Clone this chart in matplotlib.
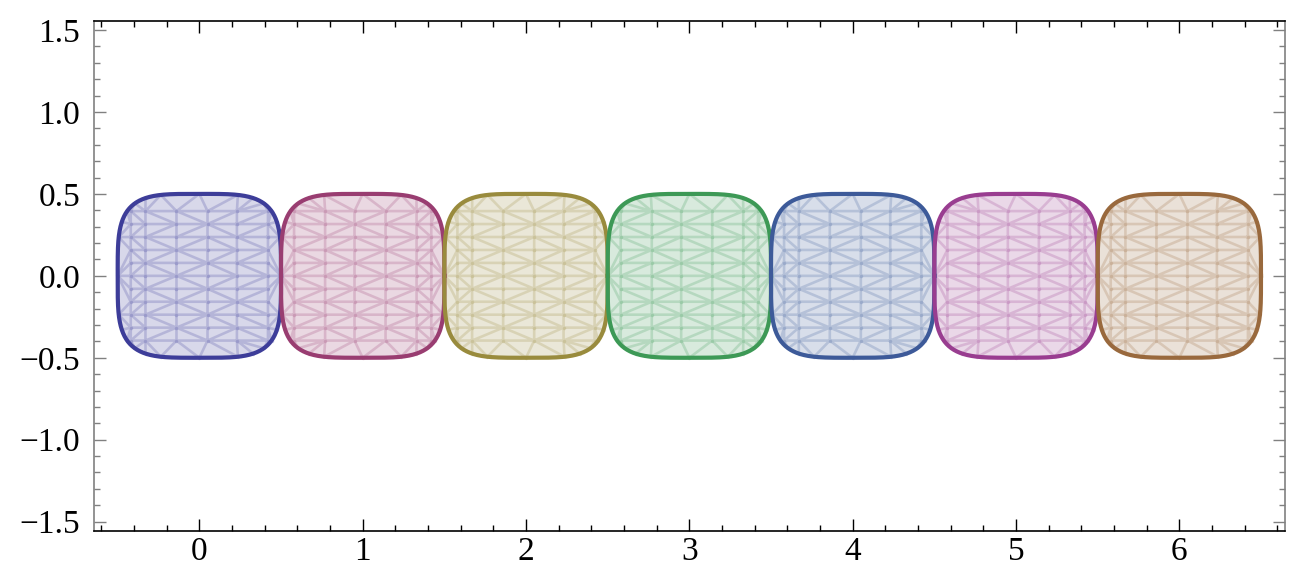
import numpy as np
import matplotlib.pyplot as plt
import matplotlib.tri as mtri
from matplotlib.ticker import MultipleLocator

# squircles |x|^4 + |y|^4 <= 0.5^4, one per center
centers = [0, 1, 2, 3, 4, 5, 6]
half_size = 0.5
power = 4
colors = ['#3d3d99', '#993d71', '#998b3d', '#3d9956', '#3d5a99', '#993d90', '#99693d']

plt.rcParams['font.family'] = ['Liberation Serif', 'DejaVu Serif']

fig = plt.figure(figsize=(13.04, 5.71), dpi=100)
ax = fig.add_axes([94/1304, 1-531/571, (1285-94)/1304, (531-21)/571])

t = np.linspace(0, 2*np.pi, 400)
bx = half_size*np.sign(np.cos(t))*np.abs(np.cos(t))**(2/power)
by = half_size*np.sign(np.sin(t))*np.abs(np.sin(t))**(2/power)

# interior points for the polygon triangulation
tb = np.linspace(0, 2*np.pi, 28, endpoint=False)
ex = half_size*np.sign(np.cos(tb))*np.abs(np.cos(tb))**(2/power)
ey = half_size*np.sign(np.sin(tb))*np.abs(np.sin(tb))**(2/power)
rows = np.arange(-5, 6)*0.079
cols = np.array([-0.42, -0.33, -0.14, 0.05, 0.23, 0.42])

for i, (c, col) in enumerate(zip(centers, colors)):
    gx = cols if i % 2 == 0 else -cols
    mx, my = np.meshgrid(gx, rows)
    px = np.concatenate([mx.ravel(), ex])
    py = np.concatenate([my.ravel(), ey])
    tri = mtri.Triangulation(px + c, py)
    ax.fill(bx + c, by, color=col, alpha=0.2, lw=0)
    ax.triplot(tri, color=col, alpha=0.22, lw=1.9, marker='o', ms=2.5, mew=0)
    ax.plot(bx + c, by, color=col, lw=3)

ax.set_xlim(-0.645, 6.647)
ax.set_ylim(-1.557, 1.555)

ax.xaxis.set_major_locator(MultipleLocator(1))
ax.xaxis.set_minor_locator(MultipleLocator(0.2))
ax.yaxis.set_major_locator(MultipleLocator(0.5))
ax.yaxis.set_minor_locator(MultipleLocator(0.1))
ax.tick_params(which='both', direction='in', top=True, right=True, labelsize=24)
ax.tick_params(which='major', length=8.5, width=1)
ax.tick_params(which='minor', length=4.6, width=1)
ax.tick_params(axis='x', which='both', colors='black', pad=4)
ax.tick_params(axis='y', which='both', color='#808080', labelcolor='black', pad=10)
ax.yaxis.set_major_formatter(plt.FuncFormatter(lambda v, p: f'{v:.1f}'.replace('-', '\u2212')))
for s in ['left', 'right']:
    ax.spines[s].set_color('#808080')
for s in ax.spines.values():
    s.set_linewidth(1.2)

fig.savefig('out.png', dpi=100)
